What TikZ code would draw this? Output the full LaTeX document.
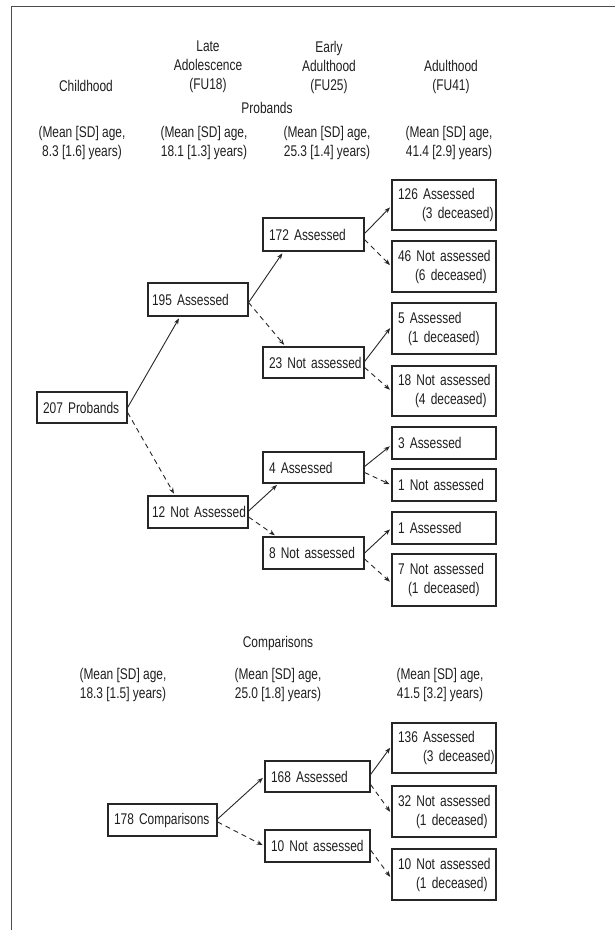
\documentclass[tikz,border=0pt]{standalone}
\usepackage{fontspec}
\setmainfont[FakeStretch=0.77]{Liberation Sans}
\usetikzlibrary{arrows.meta,calc}
\begin{document}
\begin{tikzpicture}[x=1pt,y=-1pt,
  every node/.style={font=\fontsize{15.5}{19}\selectfont, text=black!88},
  lbl/.style={align=center, inner sep=0pt},
  box/.style={draw=black!85, line width=1.2pt, align=left, inner xsep=6pt, inner ysep=0pt},
  arr/.style={line width=0.9pt, draw=black!85, -{Stealth[length=6pt,width=4.5pt]}, shorten >=2pt},
  darr/.style={arr, dash pattern=on 5pt off 4pt}]
\useasboundingbox (0,0) rectangle (615,930);
% frame
\draw[line width=1.8pt, draw=black!70] (11.5,930) -- (11.5,6.5) -- (615,6.5);

% headers
\node[lbl] (hchild) at (86,86) {Childhood};
\node[lbl] (hlate) at (208,67) {Late\\Adolescence\\(FU18)};
\node[lbl] (hearly) at (329,67) {Early\\Adulthood\\(FU25)};
\node[lbl] (hadult) at (451,76.5) {Adulthood\\(FU41)};
\node[lbl] (probands) at (267,108) {Probands};
\node[lbl] (m1) at (82,142.5) {(Mean [SD] age,\\8.3 [1.6] years)};
\node[lbl] (m2) at (204,142.5) {(Mean [SD] age,\\18.1 [1.3] years)};
\node[lbl] (m3) at (327,142.5) {(Mean [SD] age,\\25.3 [1.4] years)};
\node[lbl] (m4) at (449,142.5) {(Mean [SD] age,\\41.4 [2.9] years)};

% proband tree
\node[box, text width=78pt, minimum height=31pt] (p207) at (82,407.5) {\mbox{207 Probands}};
\node[box, inner xsep=4pt, text width=92pt, minimum height=33pt] (a195) at (198,299.5) {\mbox{195 Assessed}};
\node[box, inner xsep=4pt, text width=92pt, minimum height=32pt] (n12) at (198,512) {\mbox{12 Not Assessed}};
\node[box, text width=89pt, minimum height=33pt] (a172) at (313.5,234.5) {\mbox{172 Assessed}};
\node[box, text width=89pt, minimum height=31pt] (n23) at (313.5,362.5) {\mbox{23 Not assessed}};
\node[box, text width=89pt, minimum height=31pt] (a4) at (313.5,467.5) {\mbox{4 Assessed}};
\node[box, text width=89pt, minimum height=32pt] (n8) at (313.5,553) {\mbox{8 Not assessed}};
\node[box, text width=92pt, minimum height=50pt] (r126) at (444,205) {\mbox{126 Assessed}\\\mbox{\hspace*{24pt}(3 deceased)}};
\node[box, text width=92pt, minimum height=51pt] (r46) at (444,266.5) {\mbox{46 Not assessed}\\\mbox{\hspace*{17pt}(6 deceased)}};
\node[box, text width=92pt, minimum height=51pt] (r5) at (444,328.5) {\mbox{5 Assessed}\\\mbox{\hspace*{10pt}(1 deceased)}};
\node[box, text width=92pt, minimum height=50pt] (r18) at (444,391) {\mbox{18 Not assessed}\\\mbox{\hspace*{17pt}(4 deceased)}};
\node[box, text width=92pt, minimum height=32pt] (r3) at (444,443) {\mbox{3 Assessed}};
\node[box, text width=92pt, minimum height=32pt] (r1n) at (444,485) {\mbox{1 Not assessed}};
\node[box, text width=92pt, minimum height=32pt] (r1a) at (444,528) {\mbox{1 Assessed}};
\node[box, text width=92pt, minimum height=52pt] (r7) at (444,580) {\mbox{7 Not assessed}\\\mbox{\hspace*{10pt}(1 deceased)}};

\draw[arr] (p207.east) -- ($(a195.south)+(-18,0)$);
\draw[darr] ($(p207.east)+(0,5)$) -- ($(n12.north)+(-23,0)$);
\draw[arr] ($(a195.east)+(0,3)$) -- ($(a172.south)+(-30,0)$);
\draw[darr] ($(a195.east)+(0,3)$) -- ($(n23.north)+(-28,0)$);
\draw[arr] ($(a172.east)+(0,-1)$) -- ($(r126.west)+(0,1)$);
\draw[darr] ($(a172.east)+(0,5)$) -- (r46.west);
\draw[arr] ($(n23.east)+(0,-1)$) -- ($(r5.west)+(0,-2)$);
\draw[darr] ($(n23.east)+(0,5)$) -- (r18.west);
\draw[arr] ($(n12.east)+(0,-1)$) -- ($(a4.south)+(-35,0)$);
\draw[darr] ($(n12.east)+(0,5)$) -- ($(n8.north)+(-37,0)$);
\draw[arr] ($(a4.east)+(0,-1)$) -- ($(r3.west)+(0,2)$);
\draw[darr] ($(a4.east)+(0,5)$) -- (r1n.west);
\draw[arr] ($(n8.east)+(0,0)$) -- (r1a.west);
\draw[darr] ($(n8.east)+(0,6)$) -- ($(r7.west)+(0,3)$);

% comparisons
\node[lbl] (comparisons) at (278,643) {Comparisons};
\node[lbl] (cm1) at (123,685) {(Mean [SD] age,\\18.3 [1.5] years)};
\node[lbl] (cm2) at (278,685) {(Mean [SD] age,\\25.0 [1.8] years)};
\node[lbl] (cm3) at (440,685) {(Mean [SD] age,\\41.5 [3.2] years)};

\node[box, text width=97pt, minimum height=32pt] (c178) at (162.5,820) {\mbox{178 Comparisons}};
\node[box, text width=93pt, minimum height=31pt] (c168) at (317.5,776.5) {\mbox{168 Assessed}};
\node[box, text width=93pt, minimum height=32pt] (c10) at (317.5,846) {\mbox{10 Not assessed}};
\node[box, text width=92pt, minimum height=50pt] (c136) at (444,748) {\mbox{136 Assessed}\\\mbox{\hspace*{25pt}(3 deceased)}};
\node[box, text width=92pt, minimum height=51pt] (c32) at (444,811.5) {\mbox{32 Not assessed}\\\mbox{\hspace*{18pt}(1 deceased)}};
\node[box, text width=92pt, minimum height=51pt] (c10r) at (444,874.5) {\mbox{10 Not assessed}\\\mbox{\hspace*{18pt}(1 deceased)}};

\draw[arr] ($(c178.east)+(0,-1)$) -- (c168.west);
\draw[darr] ($(c178.east)+(0,2)$) -- (c10.west);
\draw[arr] ($(c168.east)+(0,-2)$) -- ($(c136.west)+(0,-2)$);
\draw[darr] ($(c168.east)+(0,8)$) -- ($(c32.west)+(0,2)$);
\draw[darr] ($(c10.east)+(0,4)$) -- ($(c10r.west)+(0,4)$);
\end{tikzpicture}
\end{document}
